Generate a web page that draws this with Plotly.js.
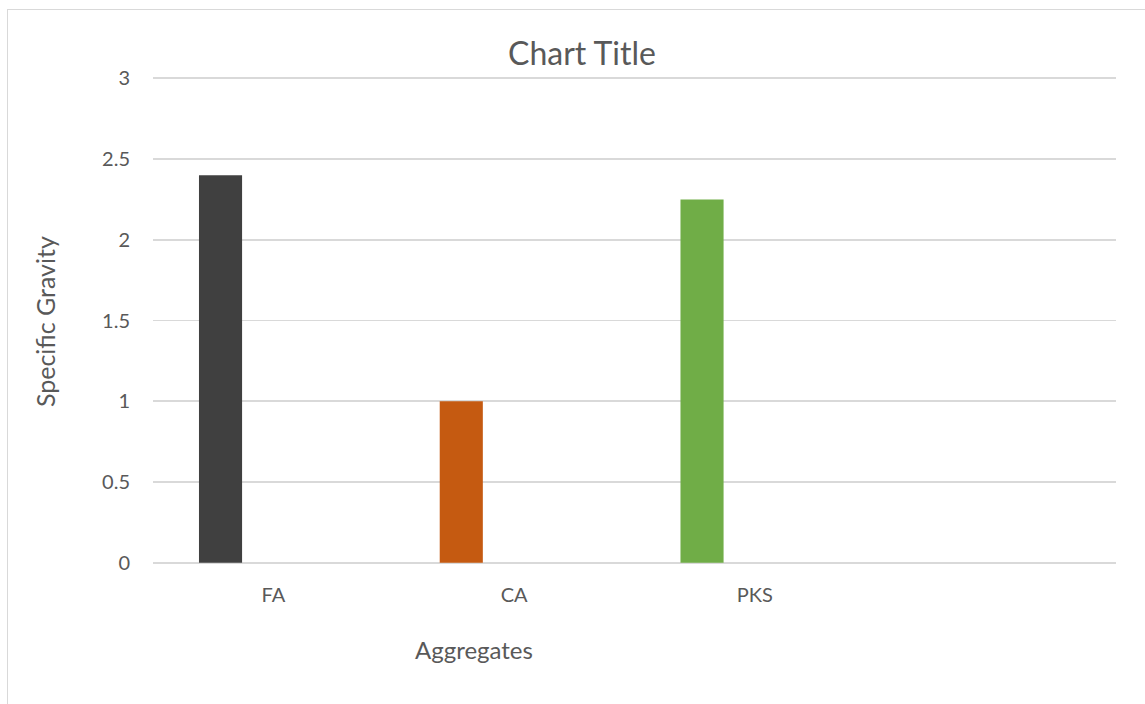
<!DOCTYPE html>
<html>
<head>
<meta charset="utf-8">
<script src="https://cdn.plot.ly/plotly-3.0.1.min.js"></script>
<style>
  html, body { margin: 0; padding: 0; background: #fff; overflow: hidden; }
  #wrap { position: relative; width: 1145px; height: 704px; }
  #chart { width: 1145px; height: 704px; }
  #frame { position: absolute; left: 7px; top: 9px; width: 1200px; height: 800px;
           border: 1.5px solid #d9d9d9; pointer-events: none; }
</style>
</head>
<body>
<div id="wrap">
  <div id="chart"></div>
  <div id="frame"></div>
</div>
<script>
// Specific gravity of each aggregate
const categories = ['FA', 'CA', 'PKS'];
const specificGravity = [2.4, 1.0, 2.25];
const barColors = ['#404040', '#c55a11', '#70ad47'];
const yTicks = [0, 0.5, 1, 1.5, 2, 2.5, 3];
const yTickText = ['0', '0.5', '1', '1.5', '2', '2.5', '3'];

const textColor = '#595959';
const fontFamily = 'Lato, "Open Sans", sans-serif';

const positions = categories.map((_, i) => i);

const trace = {
  type: 'bar',
  x: positions,
  y: specificGravity,
  marker: { color: barColors, line: { width: 0 } },
  width: 0.179,
  offset: -0.309,
  hoverinfo: 'x+y'
};

// small padding on the value range so the gridlines at 0 and 3 stay visible
const pad = 0.014;

const layout = {
  width: 1145,
  height: 704,
  margin: { l: 153, r: 29, t: 76, b: 139 },
  paper_bgcolor: '#ffffff',
  plot_bgcolor: '#ffffff',
  showlegend: false,
  font: { family: fontFamily, color: textColor, size: 20 },
  xaxis: {
    range: [-0.5, 3.5],
    tickmode: 'array',
    tickvals: positions,
    ticktext: categories,
    showgrid: false,
    zeroline: false,
    showline: false,
    ticks: '',
    ticklabelstandoff: 16,
    tickfont: { family: fontFamily, color: textColor, size: 20 },
    fixedrange: true
  },
  yaxis: {
    range: [-pad, 3 + pad],
    tickmode: 'array',
    tickvals: yTicks,
    ticktext: yTickText,
    showgrid: true,
    gridcolor: '#d9d9d9',
    gridwidth: 1.6,
    zeroline: false,
    showline: false,
    ticks: '',
    ticklabelstandoff: 22,
    tickfont: { family: fontFamily, color: textColor, size: 20 },
    fixedrange: true
  },
  annotations: [
    {
      text: 'Chart Title', xref: 'paper', yref: 'paper',
      x: 0.4455, y: 1.049, xanchor: 'center', yanchor: 'middle',
      showarrow: false, font: { family: fontFamily, color: textColor, size: 32 }
    },
    {
      text: 'Aggregates', xref: 'paper', yref: 'paper',
      x: 0.333, y: -0.172, xanchor: 'center', yanchor: 'middle',
      showarrow: false, font: { family: fontFamily, color: textColor, size: 24 }
    },
    {
      text: 'Specific Gravity', xref: 'paper', yref: 'paper',
      x: -0.112, y: 0.497, xanchor: 'center', yanchor: 'middle', textangle: -90,
      showarrow: false, font: { family: fontFamily, color: textColor, size: 25 }
    }
  ]
};

Plotly.newPlot('chart', [trace], layout, { displayModeBar: false, staticPlot: true });
</script>
</body>
</html>
